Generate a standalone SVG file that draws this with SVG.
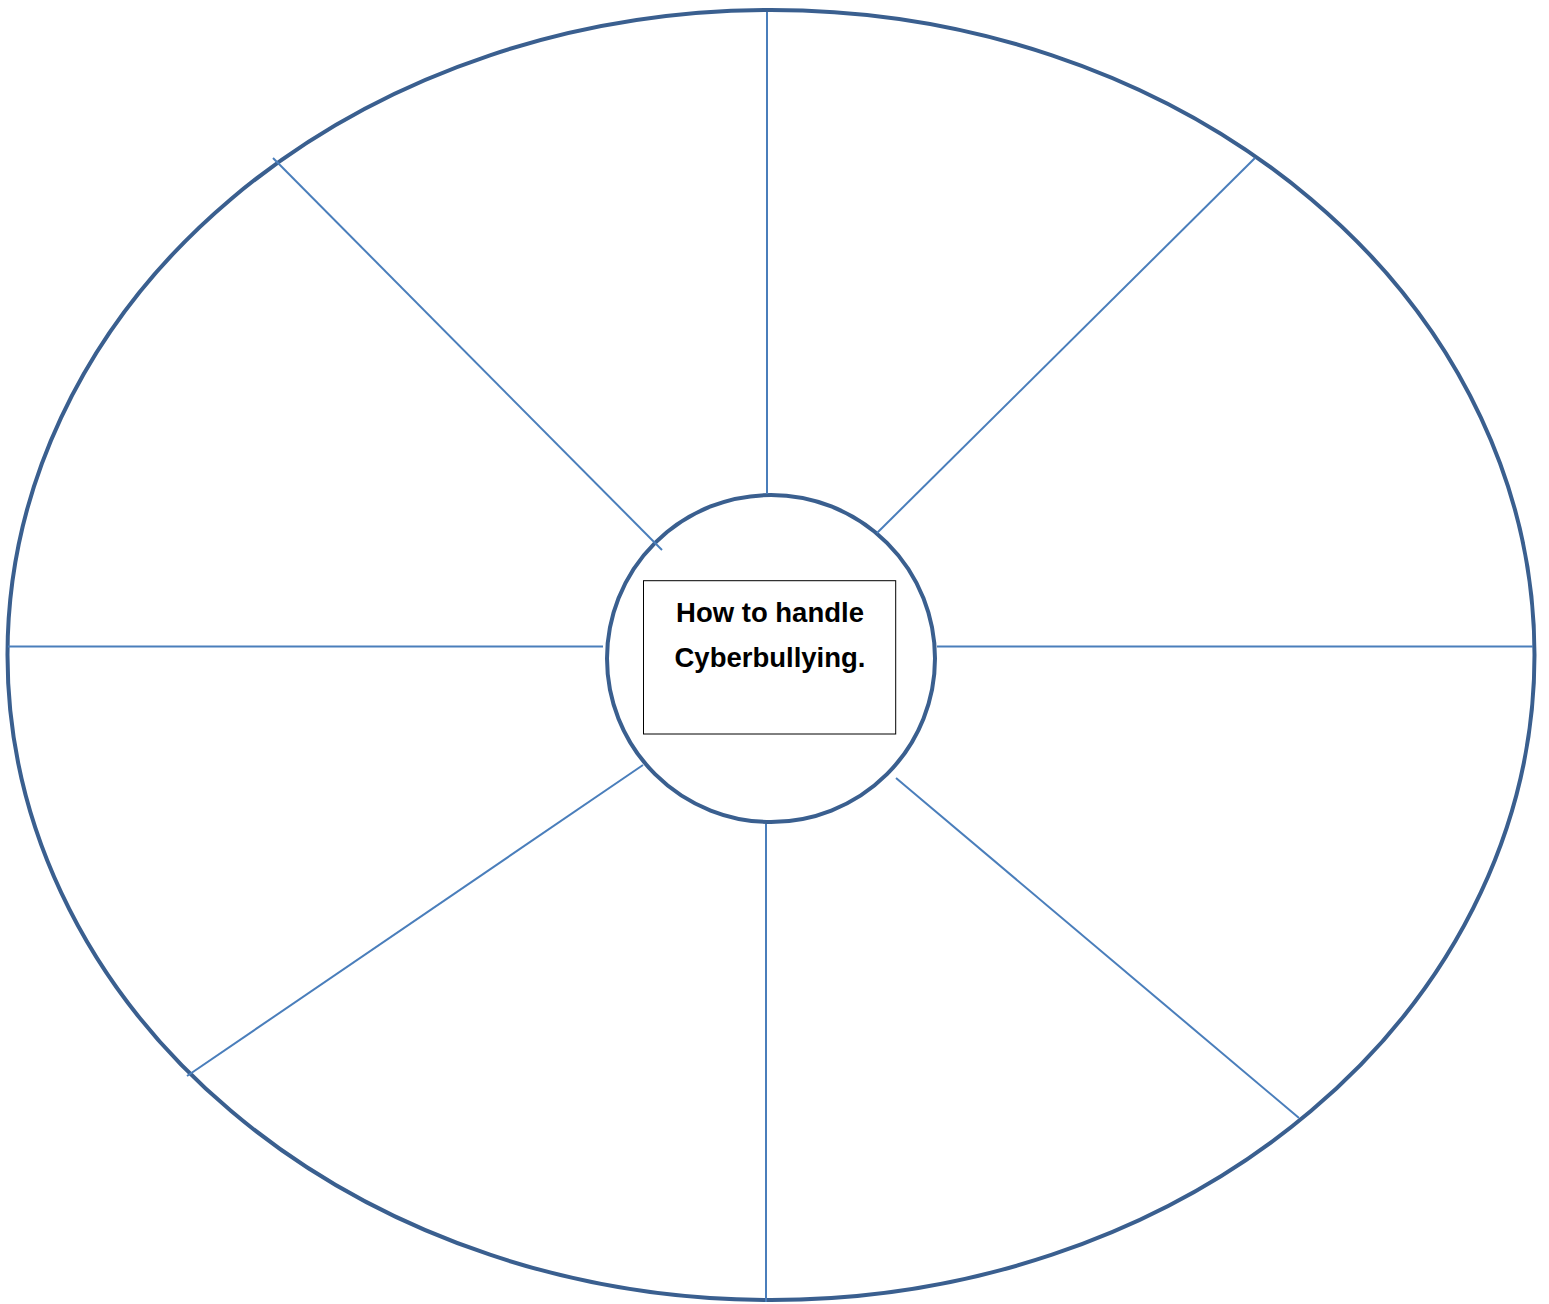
<svg xmlns="http://www.w3.org/2000/svg" width="1549" height="1304" viewBox="0 0 1549 1304">
<style>
.ring{fill:none;stroke:#3A5F8F;stroke-width:4}
.spoke{stroke:#4A7EBB;stroke-width:2;fill:none}
.label{font-family:"Liberation Sans",Arial,sans-serif;font-weight:bold;font-size:27.5px;fill:#000;text-anchor:middle}
</style>
<rect width="1549" height="1304" fill="#fff"/>
<g id="outer">
<ellipse class="ring" cx="771" cy="655" rx="763.5" ry="645"/>
</g>
<g id="center">
<ellipse cx="771" cy="658.5" rx="164" ry="163.5" fill="#fff" stroke="#3A5F8F" stroke-width="4"/>
<rect x="643.5" y="580.7" width="252.2" height="153.3" fill="#fff" stroke="#000" stroke-width="1"/>
<text class="label" x="770" y="621.5">How to handle</text>
<text class="label" x="770" y="666.5">Cyberbullying.</text>
</g>
<g id="connectors">
<line class="spoke" x1="767" y1="12" x2="767" y2="494"/>
<line class="spoke" x1="273" y1="158" x2="662" y2="550"/>
<line class="spoke" x1="1255" y1="158" x2="877" y2="533"/>
<line class="spoke" x1="937" y1="646.5" x2="1533" y2="646.5"/>
<line class="spoke" x1="8" y1="646.5" x2="603" y2="646.5"/>
<line class="spoke" x1="896" y1="778" x2="1299" y2="1118"/>
<line class="spoke" x1="766" y1="824" x2="766" y2="1302"/>
<line class="spoke" x1="643" y1="765" x2="187" y2="1076"/>
</g>
</svg>
